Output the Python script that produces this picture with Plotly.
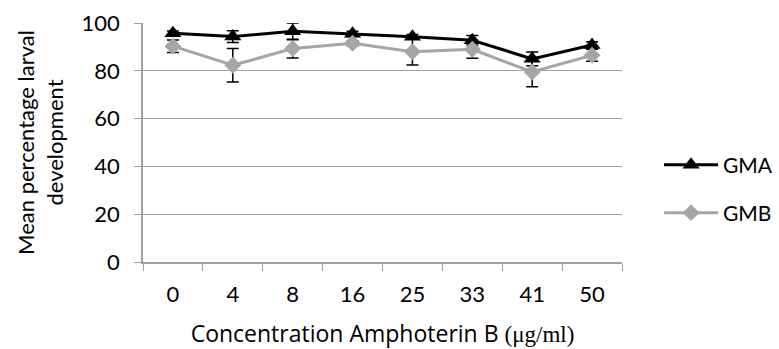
import plotly.graph_objects as go

categories = ["0", "4", "8", "16", "25", "33", "41", "50"]
gma = [95.7, 94.3, 96.5, 95.5, 94.2, 92.8, 85.0, 90.8]
gma_err = [1.0, 2.5, 3.5, 1.1, 1.0, 2.0, 2.9, 1.4]
gmb = [90.3, 82.3, 89.3, 91.5, 88.0, 89.0, 79.5, 86.5]
gmb_err = [2.6, 7.0, 3.9, 1.0, 5.6, 3.8, 6.2, 2.5]

FONT = "Lato, Carlito, Calibri, sans-serif"

fig = go.Figure()
fig.add_trace(go.Scatter(
    x=categories, y=gma, name="GMA", mode="lines+markers",
    line=dict(color="black", width=3),
    marker=dict(symbol="triangle-up", size=15, color="black"),
    error_y=dict(type="data", array=gma_err, visible=True, color="black", thickness=1.5, width=6),
    legend="legend", showlegend=True,
))
fig.add_trace(go.Scatter(
    x=categories, y=gmb, name="GMB", mode="lines+markers",
    line=dict(color="#A6A6A6", width=3),
    marker=dict(symbol="diamond", size=13, color="#A6A6A6"),
    error_y=dict(type="data", array=gmb_err, visible=True, color="black", thickness=1.5, width=6),
    legend="legend2", showlegend=True,
))

fig.update_layout(
    width=779, height=349,
    margin=dict(l=143, r=157, t=23, b=87),
    paper_bgcolor="white", plot_bgcolor="white",
    showlegend=True,
    font=dict(family=FONT, size=22, color="black"),
    legend=dict(x=0.846, y=1 - 165 / 349, xref="container", yref="container", yanchor="middle", xanchor="left",
                font=dict(size=21), bgcolor="rgba(0,0,0,0)", itemwidth=54, visible=True),
    legend2=dict(x=0.846, y=1 - 213 / 349, xref="container", yref="container", yanchor="middle", xanchor="left",
                 font=dict(size=21), bgcolor="rgba(0,0,0,0)", itemwidth=54, visible=True),
    xaxis=dict(
        type="category", range=[-0.5, 7.5], tickson="boundaries",
        ticks="outside", ticklen=7, tickcolor="#A0A0A0",
        showline=True, linecolor="#A0A0A0", linewidth=1.5,
        showgrid=False, ticklabelstandoff=12, automargin=False,
        title=dict(text="Concentration Amphoterin B <span style='font-family:Liberation Serif'>(μg/ml)</span>",
                   standoff=23, font=dict(size=23, family="Open Sans")),
    ),
    yaxis=dict(
        range=[0, 100], dtick=20, ticks="outside", ticklen=7, tickcolor="#A0A0A0",
        showline=True, linecolor="#A0A0A0", linewidth=1.5,
        showgrid=True, gridcolor="#A0A0A0", gridwidth=1.2,
        zeroline=False, ticklabelstandoff=10, automargin=False,
        title=dict(text="Mean percentage larval<br>development", standoff=12, font=dict(size=22)),
    ),
)

fig.write_html("out.html")
